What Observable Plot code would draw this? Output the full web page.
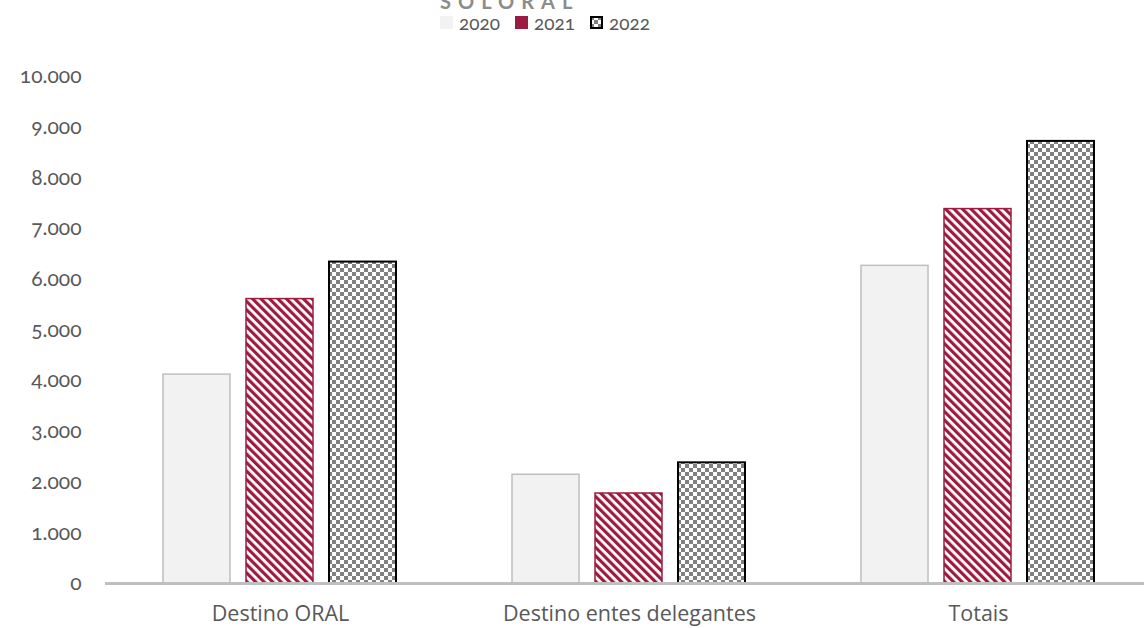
<!DOCTYPE html>
<html>
<head>
<meta charset="utf-8">
<script src="https://cdn.jsdelivr.net/npm/d3@7"></script>
<script src="https://cdn.jsdelivr.net/npm/@observablehq/plot@0.6"></script>
<style>
  html, body { margin: 0; padding: 0; background: #fff; overflow: hidden; }
  #wrap { position: relative; width: 1144px; height: 628px; overflow: hidden; }
  #title { position: absolute; left: 440px; top: -9px; font-family: Lato, sans-serif; font-weight: bold;
           font-size: 20px; line-height: 20px; letter-spacing: 7px; color: #8c8c8c; white-space: nowrap; }
  #legend { position: absolute; left: 440px; top: 11px; display: flex; align-items: center;
            font-family: Lato, sans-serif; font-size: 19px; color: #595959; font-variant-numeric: oldstyle-nums; }
  #legend .item { display: flex; align-items: center; margin-right: 15px; }
  #legend svg { margin-right: 6px; }
  #chart { position: absolute; left: 0; top: 40px; }
  #chart g[aria-label^="y-axis"] text { font-family: Lato, sans-serif !important; font-size: 21px !important;
            fill: #595959; font-variant-numeric: oldstyle-nums; }
  #chart g[aria-label^="fx-axis"] text { font-family: "Open Sans", sans-serif !important; font-size: 21.5px !important; fill: #595959; }
</style>
</head>
<body>
<svg width="0" height="0" style="position:absolute">
  <defs>
    <pattern id="p2021" width="6" height="6" patternUnits="userSpaceOnUse" patternTransform="rotate(-45)">
      <rect width="6" height="6" fill="#ffffff"></rect>
      <rect width="3.2" height="6" fill="#9b1c41"></rect>
    </pattern>
    <pattern id="p2022" width="8" height="8" patternUnits="userSpaceOnUse">
      <rect width="8" height="8" fill="#ffffff"></rect>
      <rect width="4" height="4" fill="#808080"></rect>
      <rect x="4" y="4" width="4" height="4" fill="#808080"></rect>
    </pattern>
  </defs>
</svg>
<div id="wrap">
  <div id="title">SOLORAL</div>
  <div id="legend"></div>
  <div id="chart"></div>
</div>
<script>
const categories = ["Destino ORAL", "Destino entes delegantes", "Totais"];
const years = ["2020", "2021", "2022"];
const values2020 = [4120, 2145, 6265];
const values2021 = [5610, 1775, 7385];
const values2022 = [6340, 2380, 8720];
const yTicks = [0, 1000, 2000, 3000, 4000, 5000, 6000, 7000, 8000, 9000, 10000];

const series = [values2020, values2021, values2022];
const data = categories.flatMap((c, i) => years.map((y, j) => ({cat: c, year: y, value: series[j][i]})));

const styles = {
  "2020": {fill: "#f2f2f2", stroke: "#bfbfbf", strokeWidth: 1.5, swatch: "#f2f2f2", swStroke: "none"},
  "2021": {fill: "url(#p2021)", stroke: "#9b1c41", strokeWidth: 1.5, swatch: "#9b1c41", swStroke: "none"},
  "2022": {fill: "url(#p2022)", stroke: "#000000", strokeWidth: 2, swatch: "url(#p2022)", swStroke: "#000"}
};

const locale = d3.formatLocale({decimal: ",", thousands: ".", grouping: [3], currency: ["", " €"]});
const fmt = locale.format(",d");

const chart = Plot.plot({
  width: 1144,
  height: 588,
  marginLeft: 162,
  marginRight: 48,
  marginTop: 36,
  marginBottom: 45,
  style: {background: "transparent", overflow: "visible"},
  fx: {domain: categories, paddingInner: 0.3238, paddingOuter: 0, label: null, tickSize: 0, tickPadding: 22},
  x: {domain: years, paddingInner: 0.19, paddingOuter: 0, axis: null},
  y: {domain: [0, 10000], ticks: yTicks, tickFormat: fmt, tickSize: 0, tickPadding: 81, label: null},
  marks: [
    ...years.map(yr => Plot.barY(data.filter(d => d.year === yr), {
      fx: "cat", x: "year", y: "value",
      fill: styles[yr].fill, stroke: styles[yr].stroke, strokeWidth: styles[yr].strokeWidth
    })),
    Plot.ruleY([0], {stroke: "#bfbfbf", strokeWidth: 3, insetLeft: -57, insetRight: -57})
  ]
});
document.getElementById("chart").appendChild(chart);

const legend = document.getElementById("legend");
years.forEach(yr => {
  const item = document.createElement("div");
  item.className = "item";
  const s = styles[yr];
  item.innerHTML = `<svg width="13" height="13"><rect x="${s.swStroke === "none" ? 0 : 1}" y="${s.swStroke === "none" ? 0 : 1}" width="${s.swStroke === "none" ? 13 : 11}" height="${s.swStroke === "none" ? 13 : 11}" fill="${s.swatch}" stroke="${s.swStroke}" stroke-width="2"></rect></svg><span>${yr}</span>`;
  legend.appendChild(item);
});
</script>
</body>
</html>
